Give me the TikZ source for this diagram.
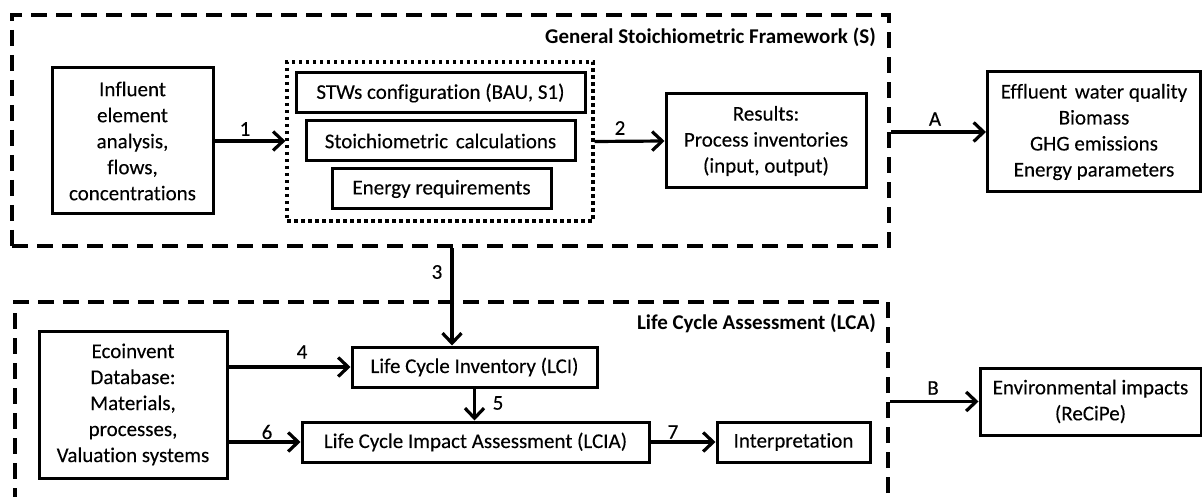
\documentclass[tikz,border=0pt]{standalone}
\usepackage{fontspec}
\setmainfont{Carlito}[Ligatures=NoCommon,UprightFeatures={FakeBold=0.2}]
\usetikzlibrary{arrows.meta}
\newcommand\dfont{\fontsize{21}{26}\selectfont}
\begin{document}
\begin{tikzpicture}[x=1pt,y=-1pt,
  box/.style={draw,line width=3pt,inner sep=0pt,align=center,font=\dfont},
  frame/.style={draw,line width=4pt,dash pattern=on 16pt off 9pt,inner sep=0pt},
  group/.style={draw,line width=3.2pt,dash pattern=on 3.5pt off 3.5pt,inner sep=0pt},
  arr/.style={line width=3.2pt,-{Straight Barb[length=10pt,width=19pt]}},
  lbl/.style={font=\dfont,inner sep=0pt},
  ttl/.style={font=\dfont\bfseries,inner sep=0pt,anchor=east}]
\clip (0,0) rectangle (1202,497);
% frames
\node[frame, minimum width=877pt, minimum height=231pt] (sfr) at (450.5,130.5) {};
\node[frame, minimum width=873pt, minimum height=218pt] (lfr) at (451.5,411) {};
\node[ttl] (st) at (876,37) {General Stoichiometric Framework (S)};
\node[ttl] (lt) at (876,323) {Life Cycle Assessment (LCA)};
% top part
\node[box, minimum width=161pt, minimum height=146pt] (infl) at (132.5,141)
  {Influent\\element\\analysis,\\flows,\\concentrations};
\node[group, minimum width=306pt, minimum height=159pt] (grp) at (440,141.5) {};
\node[box, minimum width=289pt, minimum height=40pt] (stw) at (440.5,93) {STWs configuration (BAU, S1)};
\node[box, minimum width=269pt, minimum height=40pt] (sto) at (440.5,141) {Stoichiometric\hspace{3pt} calculations};
\node[box, minimum width=219pt, minimum height=40pt] (ene) at (441.5,189) {Energy requirements};
\node[box, minimum width=200pt, minimum height=94pt] (res) at (766,141)
  {Results:\\Process inventories\\(input, output)};
\node[box, minimum width=213pt, minimum height=120pt] (eff) at (1094,132)
  {Effluent\hspace{3pt} water quality\\Biomass\\GHG emissions\\Energy parameters};
% bottom part
\node[box, minimum width=188pt, minimum height=147pt] (eco) at (133,404.5)
  {Ecoinvent\\Database:\\Materials,\\processes,\\Valuation systems};
\node[box, minimum width=245pt, minimum height=40pt] (lci) at (474.5,367) {Life Cycle Inventory (LCI)};
\node[box, minimum width=347pt, minimum height=40pt] (lcia) at (475.5,442) {Life Cycle Impact Assessment (LCIA)};
\node[box, minimum width=153pt, minimum height=40pt] (int) at (793.5,442) {Interpretation};
\node[box, minimum width=221pt, minimum height=67pt] (env) at (1090.5,401.5)
  {Environmental impacts\\(ReCiPe)};
\coordinate (c3) at (452,300);
% connectors
\draw[arr] (infl.east) -- (grp.west |- infl.east);
\draw[arr] (grp.east) -- (res.west);
\draw[arr] (eff.west -| sfr.east) -- (eff.west);
\draw[arr] (c3 |- sfr.south) -- (c3 |- lci.north);
\draw[arr] (eco.east |- lci.west) -- (lci.west);
\draw[arr] (lci.south) -- (lci.south |- lcia.north);
\draw[arr] (eco.east |- lcia.west) -- (lcia.west);
\draw[arr] (lcia.east) -- (int.west);
\draw[arr] (env.west -| lfr.east) -- (env.west);
% labels
\node[lbl] (l1) at (245,129) {1};
\node[lbl] (l2) at (620,128) {2};
\node[lbl] (lA) at (935,119) {A};
\node[lbl] (l3) at (437,272) {3};
\node[lbl] (l4) at (302,352) {4};
\node[lbl] (l5) at (498,403) {5};
\node[lbl] (l6) at (267,432) {6};
\node[lbl] (l7) at (673,432) {7};
\node[lbl] (lB) at (933,388) {B};
\end{tikzpicture}
\end{document}
